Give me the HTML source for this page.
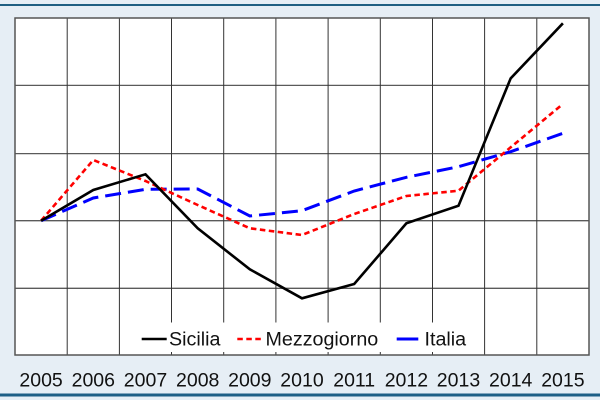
<!DOCTYPE html>
<html>
<head>
<meta charset="utf-8">
<style>
  html, body { margin: 0; padding: 0; }
  body { width: 600px; height: 400px; background: #e6eef5; overflow: hidden; }
  svg { display: block; }
  text { font-family: "Liberation Sans", Arial, sans-serif; fill: #111; }
</style>
</head>
<body>
<svg width="600" height="400" viewBox="0 0 600 400" xmlns="http://www.w3.org/2000/svg">
  <rect x="0" y="0" width="600" height="400" fill="#e6eef5"/>
  <!-- top rule -->
  <rect x="0" y="4" width="600" height="2" fill="#1f5f82"/>
  <!-- bottom rule -->
  <rect x="0" y="393.5" width="600" height="3" fill="#1e5f86"/>

  <!-- plot area -->
  <rect x="15" y="18" width="574" height="337" fill="#ffffff"/>

  <!-- horizontal grid -->
  <g stroke="#5a5a5a" stroke-width="1.3">
    <line x1="15" y1="85.4" x2="589" y2="85.4"/>
    <line x1="15" y1="153.6" x2="589" y2="153.6"/>
    <line x1="15" y1="220.7" x2="589" y2="220.7"/>
    <line x1="15" y1="288.3" x2="589" y2="288.3"/>
  </g>
  <!-- vertical grid -->
  <g stroke="#333" stroke-width="1">
    <line x1="67.2" y1="18" x2="67.2" y2="355"/>
    <line x1="119.4" y1="18" x2="119.4" y2="355"/>
    <line x1="171.5" y1="18" x2="171.5" y2="355"/>
    <line x1="223.7" y1="18" x2="223.7" y2="355"/>
    <line x1="275.9" y1="18" x2="275.9" y2="355"/>
    <line x1="328.1" y1="18" x2="328.1" y2="355"/>
    <line x1="380.3" y1="18" x2="380.3" y2="355"/>
    <line x1="432.5" y1="18" x2="432.5" y2="355"/>
    <line x1="484.6" y1="18" x2="484.6" y2="355"/>
    <line x1="536.8" y1="18" x2="536.8" y2="355"/>
  </g>
  <!-- border -->
  <rect x="15" y="18" width="574" height="337" fill="none" stroke="#555" stroke-width="1.5"/>

  <!-- legend box -->
  <rect x="128" y="322.5" width="350" height="29.5" fill="#ffffff"/>

  <!-- series -->
  <polyline fill="none" stroke="#0000ff" stroke-width="3" stroke-dasharray="16 7"
    points="41.1,220.7 93.3,198 145.5,189.3 197.7,189 249.8,216 302,210.7 354.2,191 406.4,177.3 458.5,166.7 510.7,151.7 562.9,133.3"/>
  <polyline fill="none" stroke="#ff0000" stroke-width="2.6" stroke-dasharray="5.5 3.5"
    points="41.1,220.7 93.3,160 145.5,181 197.7,205 249.8,228.3 302,235 354.2,214 406.4,196 458.5,190.7 510.7,147.3 562.9,104"/>
  <polyline fill="none" stroke="#000000" stroke-width="2.6" stroke-linejoin="miter"
    points="41.1,220.7 93.3,190 145.5,174.3 197.7,228.3 249.8,269.3 302,298.3 354.2,284 406.4,223.3 458.5,205.7 510.7,78.3 562.9,23.3"/>

  <!-- legend -->
  <line x1="141.7" y1="339" x2="166.7" y2="339" stroke="#000" stroke-width="2.6"/>
  <text x="169" y="345.5" font-size="19.7">Sicilia</text>
  <line x1="237.3" y1="339" x2="263" y2="339" stroke="#ff0000" stroke-width="2.6" stroke-dasharray="5.5 3.5"/>
  <text x="265.5" y="345.5" font-size="19.7">Mezzogiorno</text>
  <line x1="396.7" y1="339" x2="418.3" y2="339" stroke="#0000ff" stroke-width="3"/>
  <text x="424.5" y="345.5" font-size="19.7">Italia</text>

  <!-- x labels -->
  <g font-size="19.5" text-anchor="middle">
    <text x="41.1" y="386.7">2005</text>
    <text x="93.3" y="386.7">2006</text>
    <text x="145.5" y="386.7">2007</text>
    <text x="197.7" y="386.7">2008</text>
    <text x="249.8" y="386.7">2009</text>
    <text x="302" y="386.7">2010</text>
    <text x="354.2" y="386.7">2011</text>
    <text x="406.4" y="386.7">2012</text>
    <text x="458.5" y="386.7">2013</text>
    <text x="510.7" y="386.7">2014</text>
    <text x="562.9" y="386.7">2015</text>
  </g>
</svg>
</body>
</html>
